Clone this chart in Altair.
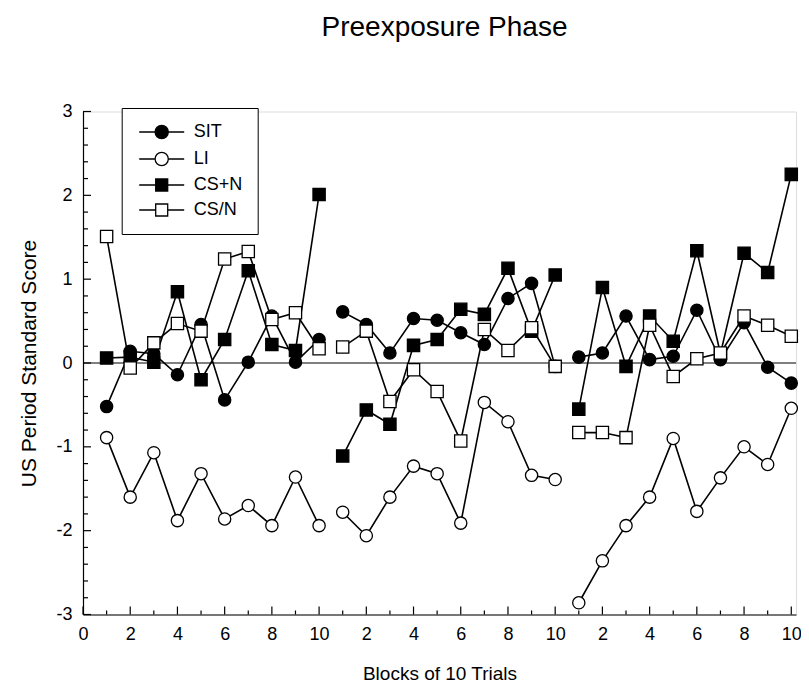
import altair as alt
import pandas as pd

# ---- data ----
blocks = list(range(1, 31))
series_names = ["SIT", "LI", "CS+N", "CS/N"]
sit = [-0.52, 0.14, 0.11, -0.14, 0.46, -0.44, 0.01, 0.56, 0.01, 0.28,
       0.61, 0.46, 0.12, 0.53, 0.51, 0.36, 0.22, 0.77, 0.95, -0.04,
       0.07, 0.12, 0.56, 0.04, 0.08, 0.63, 0.04, 0.48, -0.05, -0.24]
li = [-0.89, -1.60, -1.07, -1.88, -1.32, -1.86, -1.70, -1.94, -1.36, -1.94,
      -1.78, -2.06, -1.60, -1.23, -1.32, -1.91, -0.47, -0.70, -1.34, -1.39,
      -2.86, -2.36, -1.94, -1.60, -0.90, -1.77, -1.37, -1.00, -1.21, -0.54]
csn = [0.06, 0.07, 0.01, 0.85, -0.20, 0.28, 1.10, 0.22, 0.15, 2.01,
       -1.11, -0.56, -0.73, 0.21, 0.28, 0.64, 0.58, 1.13, 0.38, 1.05,
       -0.55, 0.90, -0.04, 0.56, 0.26, 1.34, 0.11, 1.31, 1.08, 2.25]
cs_n = [1.51, -0.06, 0.24, 0.47, 0.38, 1.24, 1.33, 0.52, 0.60, 0.17,
        0.19, 0.38, -0.46, -0.08, -0.34, -0.93, 0.40, 0.15, 0.42, -0.04,
        -0.83, -0.83, -0.89, 0.45, -0.16, 0.05, 0.12, 0.56, 0.45, 0.32]
marker_shapes = ["circle", "circle", "square", "square"]
marker_fills = ["black", "white", "black", "white"]
x_major = list(range(0, 31, 2))
x_minor = list(range(1, 31, 2))
y_major = [-3, -2, -1, 0, 1, 2, 3]
y_minor = [round(-3 + 0.2 * i, 1) for i in range(31) if i % 5 != 0]

FONT = "Liberation Sans"

rows = []
for name, vals, shp, fc in zip(series_names, [sit, li, csn, cs_n], marker_shapes, marker_fills):
    for b, v in zip(blocks, vals):
        rows.append({"block": b, "value": v, "series": name,
                     "seg": (b - 1) // 10, "marker": shp, "fillc": fc})
df = pd.DataFrame(rows)

legend_paths = [
    "M-3.75,0L-1.1,0M1.1,0L3.75,0M1.1,0A1.1,1.1,0,1,1,-1.1,0A1.1,1.1,0,1,1,1.1,0Z",
    "M-3.75,0L-1.1,0M1.1,0L3.75,0M1.1,0A1.1,1.1,0,1,1,-1.1,0A1.1,1.1,0,1,1,1.1,0Z",
    "M-3.75,0L-1,0M1,0L3.75,0M-1,-1L1,-1L1,1L-1,1Z",
    "M-3.75,0L-1,0M1,0L3.75,0M-1,-1L1,-1L1,1L-1,1Z",
]

x_scale = alt.Scale(domain=[0, 30.2], nice=False, zero=False)
y_scale = alt.Scale(domain=[-3, 3], nice=False, zero=False)

x_axis = alt.Axis(
    values=x_major, title="Blocks of 10 Trials", grid=False, ticks=False,
    labelExpr="datum.value == 0 ? '0' : (datum.value % 10 == 0 ? '10' : '' + (datum.value % 10))",
    labelFont=FONT, labelFontSize=18, labelColor="black", labelPadding=11,
    titleFont=FONT, titleFontSize=19, titleFontWeight="normal", titleColor="black",
    titlePadding=21, domainColor="black", domainWidth=1.2, tickSize=0,
    labelFlush=False, labelOverlap=False,
)
y_axis = alt.Axis(
    values=y_major, title="US Period Standard Score", grid=False, ticks=False,
    labelExpr="'' + round(datum.value)",
    labelFont=FONT, labelFontSize=18, labelColor="black", labelPadding=11,
    titleFont=FONT, titleFontSize=21, titleFontWeight="normal", titleColor="black",
    titlePadding=16, domainColor="black", domainWidth=1.2, tickSize=0,
    labelOverlap=False,
)

base = alt.Chart(df)

zero_line = alt.Chart(pd.DataFrame({"y": [0]})).mark_rule(
    color="black", strokeWidth=1
).encode(y=alt.Y("y:Q", scale=y_scale))

def xticks(vals, length):
    return alt.Chart(pd.DataFrame({"t": vals, "b": [-3] * len(vals)})).mark_tick(
        orient="vertical", size=length, thickness=1.2, yOffset=-length / 2, color="black", opacity=1
    ).encode(x=alt.X("t:Q", scale=x_scale), y=alt.Y("b:Q", scale=y_scale))

def yticks(vals, length):
    return alt.Chart(pd.DataFrame({"t": vals, "b": [0] * len(vals)})).mark_tick(
        orient="horizontal", size=length, thickness=1.2, xOffset=length / 2, color="black", opacity=1
    ).encode(y=alt.Y("t:Q", scale=y_scale), x=alt.X("b:Q", scale=x_scale))

lines = base.mark_line(color="black", strokeWidth=1.6).encode(
    x=alt.X("block:Q", scale=x_scale, axis=x_axis),
    y=alt.Y("value:Q", scale=y_scale, axis=y_axis),
    detail=["series:N", "seg:O"],
    order="block:Q",
)

points = base.mark_point(stroke="black", strokeWidth=1.3, opacity=1, size=150).encode(
    x=alt.X("block:Q", scale=x_scale),
    y=alt.Y("value:Q", scale=y_scale),
    shape=alt.Shape("marker:N", scale=None, legend=None),
    fill=alt.Fill("fillc:N", scale=None, legend=None),
)

legend_layer = base.transform_filter("datum.block < 0").mark_point(
    strokeWidth=1.3, opacity=1, size=144
).encode(
    x=alt.X("block:Q", scale=x_scale),
    y=alt.Y("value:Q", scale=y_scale),
    shape=alt.Shape("series:N", scale=alt.Scale(domain=series_names, range=legend_paths),
                    legend=alt.Legend(
                        title=None, orient="none", legendX=38.7, legendY=-3.5,
                        symbolSize=144, symbolStrokeColor="black", symbolStrokeWidth=1.3,
                        symbolOffset=16, labelOffset=23, labelFont=FONT, labelFontSize=18,
                        labelColor="black", padding=15, strokeColor="black",
                        fillColor="white", rowPadding=7,
                    )),
    fill=alt.Fill("series:N", scale=alt.Scale(domain=series_names, range=marker_fills)),
    stroke=alt.Stroke("series:N", scale=alt.Scale(domain=series_names,
                                                  range=["black", "black", "black", "black"])),
)

chart = alt.layer(
    zero_line,
    xticks(x_major, 8), xticks(x_minor, 4),
    yticks(y_major, 8), yticks(y_minor, 5),
    lines, points, legend_layer,
).resolve_scale(
    shape="independent", fill="independent", stroke="independent"
).properties(
    width=713, height=503,
    autosize=alt.AutoSizeParams(type="none"),
    padding={"left": 75, "top": 103.5, "right": 5, "bottom": 68},
    title=alt.Title("Preexposure Phase", font=FONT, fontSize=28, fontWeight="normal",
                    color="black", anchor="middle", offset=61, dx=5),
).configure_view(stroke=None).configure(background="white")

chart.save("out.html", embed_options={"renderer": "svg", "actions": False})
